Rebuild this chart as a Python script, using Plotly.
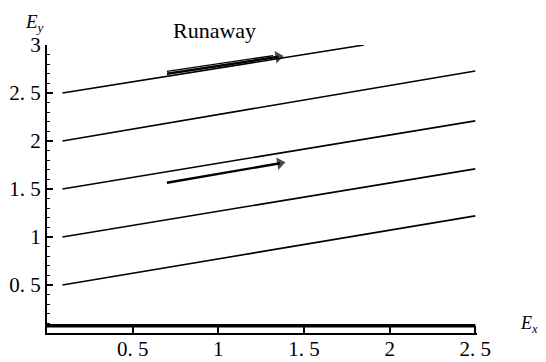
import plotly.graph_objects as go

# Data
line_starts = [0.5, 1.0, 1.5, 2.0, 2.5]
line_x_start = 0.09
line_x_ends = [2.5, 2.5, 2.5, 2.5, 1.85]
line_y_ends = [1.22, 1.71, 2.21, 2.73, 3.0]
band_x = [0.0, 2.5]
band_y = [0.075, 0.075]
arrow_upper = dict(x0=0.70, y0=2.70, x1=1.35, y1=2.877)
arrow_lower = dict(x0=0.70, y0=1.565, x1=1.36, y1=1.768)
xtick_vals = [0.5, 1, 1.5, 2, 2.5]
xtick_text = ["0. 5", "1", "1. 5", "2", "2. 5"]
ytick_vals = [0.5, 1, 1.5, 2, 2.5, 3]
ytick_text = ["0. 5", "1", "1. 5", "2", "2. 5", "3"]

SERIF = "Liberation Serif"

fig = go.Figure()
for ys, xe, ye in zip(line_starts, line_x_ends, line_y_ends):
    fig.add_trace(go.Scatter(x=[line_x_start, xe], y=[ys, ye], mode="lines",
                             line=dict(color="black", width=1.6), showlegend=False,
                             hoverinfo="skip"))
fig.add_trace(go.Scatter(x=band_x, y=band_y, mode="lines",
                         line=dict(color="black", width=3.5), showlegend=False,
                         hoverinfo="skip"))
fig.add_trace(go.Scatter(x=[band_x[1], band_x[1]], y=[0, band_y[1]], mode="lines",
                         line=dict(color="black", width=1.5), showlegend=False,
                         hoverinfo="skip"))
# second strand of the doubled upper arrow
fig.add_trace(go.Scatter(x=[arrow_upper["x0"], arrow_upper["x1"] - 0.03],
                         y=[arrow_upper["y0"] + 0.025, arrow_upper["y1"] + 0.012],
                         mode="lines", line=dict(color="black", width=1.3),
                         showlegend=False, hoverinfo="skip"))

# arrows: shaft line with a triangle marker oriented along the segment
for a in (arrow_upper, arrow_lower):
    fig.add_trace(go.Scatter(x=[a["x0"], a["x1"]], y=[a["y0"], a["y1"]],
                             mode="lines+markers",
                             line=dict(color="black", width=2.4),
                             marker=dict(symbol="triangle-up", size=[0, 11], angleref="previous",
                                         color="black", line=dict(width=0)),
                             showlegend=False, hoverinfo="skip"))

common = dict(xref="paper", yref="paper", showarrow=False,
              xanchor="center", yanchor="middle")
fig.add_annotation(x=0.39, y=1.052, text="Runaway",
                   font=dict(family=SERIF, size=22, color="black"), **common)
fig.add_annotation(x=-0.03, y=1.075, text="<i>E<sub>y</sub></i>",
                   font=dict(family=SERIF, size=19, color="black"), **common)
fig.add_annotation(x=1.12, y=0.03, text="<i>E<sub>x</sub></i>",
                   font=dict(family=SERIF, size=18, color="black"), **common)

# the page body adds an 8px margin, so the figure is sized to the remaining view
fig.update_layout(
    width=538, height=354,
    margin=dict(l=39, r=69, t=37, b=29),
    paper_bgcolor="white", plot_bgcolor="white",
    font=dict(family=SERIF, size=21, color="black"),
    xaxis=dict(range=[0, 2.51], showgrid=False, zeroline=False, showline=True,
               automargin=False, ticklabelstandoff=-4,
               linecolor="black", linewidth=2, ticks="inside", ticklen=6,
               tickwidth=1.5, tickcolor="black", tickvals=xtick_vals, ticktext=xtick_text),
    yaxis=dict(range=[0, 3.0], showgrid=False, zeroline=False, showline=True,
               automargin=False,
               linecolor="black", linewidth=2, ticks="inside", ticklen=6,
               tickwidth=1.5, tickcolor="black", tickvals=ytick_vals, ticktext=ytick_text,
               minor=dict(dtick=0.1, ticks="inside", ticklen=3, tickcolor="black",
                          tickwidth=1.2)),
)
fig.write_html("out.html")
